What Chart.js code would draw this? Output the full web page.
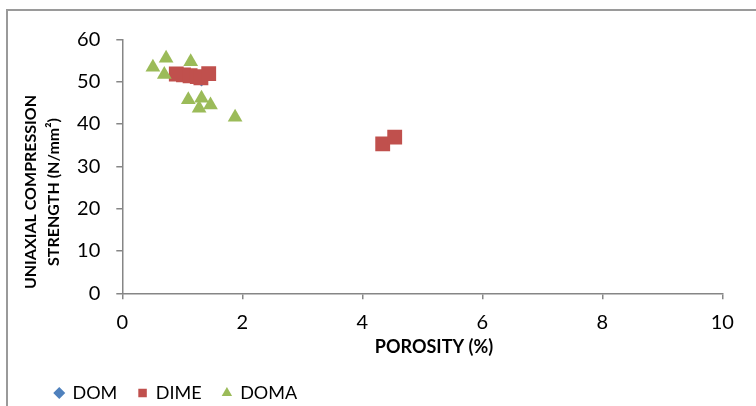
<!DOCTYPE html>
<html>
<head>
<meta charset="utf-8">
<script src="https://cdn.jsdelivr.net/npm/chart.js@4"></script>
<style>
  html, body { margin: 0; padding: 0; background: #fff; overflow: hidden; }
  #frame { position: absolute; left: 6px; top: 9px; width: 900px; height: 600px; border-left: 2px solid #9a9a9a; border-top: 2px solid #9a9a9a; }
  #chart { position: absolute; left: 0; top: 0; }
</style>
</head>
<body>
<div id="frame"></div>
<canvas id="chart" width="756" height="412"></canvas>
<script>
// series values (porosity %, strength N/mm2)
const domX = [1.32];
const domY = [50.4];
const dimeX = [0.90, 1.02, 1.13, 1.25, 1.31, 1.44, 4.34, 4.54];
const dimeY = [51.8, 51.6, 51.4, 51.2, 50.9, 51.9, 35.3, 36.9];
const domaX = [0.51, 0.73, 0.70, 1.14, 1.10, 1.32, 1.28, 1.47, 1.88];
const domaY = [53.4, 55.5, 51.7, 54.7, 45.7, 46.1, 43.7, 44.5, 41.6];

const seriesNames = ['DOM', 'DIME', 'DOMA'];
const xTicks = [0, 2, 4, 6, 8, 10];
const yTicks = [0, 10, 20, 30, 40, 50, 60];
const xTitle = 'POROSITY (%)';
const yTitle = ['UNIAXIAL COMPRESSION', 'STRENGTH (N/mm\u00B2)'];

function toPoints(xs, ys) {
    return xs.map((x, i) => ({ x: x, y: ys[i] }));
}

const axisGrey = '#868686';
const fontFamily = 'Lato, "Open Sans", sans-serif';

// axis titles, placed where the original has them
const axisTitles = {
    id: 'axisTitles',
    afterDraw(chart) {
        const ctx = chart.ctx;
        ctx.save();
        ctx.fillStyle = '#000';
        ctx.textAlign = 'center';
        ctx.textBaseline = 'middle';
        ctx.font = 'bold 18px ' + fontFamily;
        ctx.fillText(xTitle, 434, 347);
        ctx.font = 'bold 16px ' + fontFamily;
        ctx.translate(30.8, 192);
        ctx.rotate(-Math.PI / 2);
        yTitle.forEach((line, i) => ctx.fillText(line, 0, i * 23.5));
        ctx.restore();
    }
};

const ctx = document.getElementById('chart').getContext('2d');
new Chart(ctx, {
    type: 'scatter',
    data: {
        datasets: [{
            label: seriesNames[0],
            data: toPoints(domX, domY),
            pointStyle: 'rectRot',
            pointRadius: 6.5,
            pointHoverRadius: 6.5,
            backgroundColor: '#4F81BD',
            borderColor: '#4F81BD',
            borderWidth: 0,
            order: 2
        }, {
            label: seriesNames[1],
            data: toPoints(dimeX, dimeY),
            pointStyle: 'rect',
            pointRadius: 10.5,
            pointHoverRadius: 10.5,
            backgroundColor: '#C0504D',
            borderColor: '#C0504D',
            borderWidth: 0,
            order: 1
        }, {
            label: seriesNames[2],
            data: toPoints(domaX, domaY),
            pointStyle: 'triangle',
            pointRadius: 8.5,
            pointHoverRadius: 8.5,
            backgroundColor: '#9BBB59',
            borderColor: '#9BBB59',
            borderWidth: 0,
            order: 0
        }]
    },
    options: {
        responsive: false,
        animation: false,
        layout: { padding: { left: 34, right: 33.7, top: 39.3, bottom: 0 } },
        scales: {
            x: {
                type: 'linear',
                min: xTicks[0],
                max: xTicks[xTicks.length - 1],
                afterBuildTicks: (scale) => { scale.ticks = xTicks.map(v => ({ value: v })); },
                afterFit: (scale) => { scale.height = 69.7; },
                grid: { display: true, drawOnChartArea: false, drawTicks: true, tickLength: 6, color: axisGrey, lineWidth: 1.5 },
                border: { color: axisGrey, width: 1.5 },
                ticks: { color: '#000', padding: 11, font: { family: fontFamily, size: 20 } }
            },
            y: {
                type: 'linear',
                min: yTicks[0],
                max: yTicks[yTicks.length - 1],
                afterBuildTicks: (scale) => { scale.ticks = yTicks.map(v => ({ value: v })); },
                afterFit: (scale) => { scale.width = 88.3; },
                grid: { display: true, drawOnChartArea: false, drawTicks: true, tickLength: 6, color: axisGrey, lineWidth: 1.5 },
                border: { color: axisGrey, width: 1.5 },
                ticks: { color: '#000', padding: 16, font: { family: fontFamily, size: 20 } }
            }
        },
        plugins: {
            legend: {
                position: 'bottom',
                align: 'start',
                labels: {
                    usePointStyle: true,
                    boxWidth: 8.5,
                    boxHeight: 8.5,
                    padding: 21,
                    color: '#000',
                    font: { family: fontFamily, size: 18 },
                    sort: (a, b) => a.datasetIndex - b.datasetIndex
                }
            },
            tooltip: { enabled: false }
        }
    },
    plugins: [axisTitles]
});
</script>
</body>
</html>
